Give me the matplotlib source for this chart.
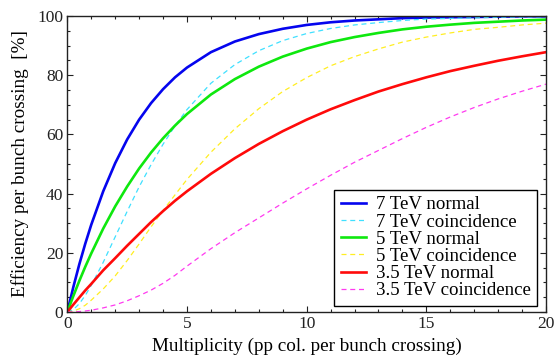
import matplotlib
matplotlib.use("Agg")
import matplotlib.pyplot as plt
from matplotlib.ticker import MultipleLocator

plt.rcParams['font.family'] = ['Liberation Serif', 'DejaVu Serif']

mult = [0, 0.25, 0.5, 0.75, 1, 1.5, 2, 2.5, 3, 3.5, 4, 4.5, 5, 6, 7, 8, 9, 10,
        11, 12, 13, 14, 15, 16, 17, 18, 19, 20]

eff_7_normal = [0, 8.4, 16.1, 23.1, 29.5, 40.8, 50.3, 58.3, 65.0, 70.6, 75.3, 79.3, 82.6,
                87.8, 91.4, 93.9, 95.7, 97.0, 97.9, 98.5, 98.9, 99.3, 99.5, 99.6, 99.7,
                99.8, 99.9, 99.9]
eff_7_coinc = [0, 0.8, 2.8, 5.6, 9.0, 16.8, 25.4, 34.0, 42.3, 49.8, 56.7, 62.9, 68.4,
               77.3, 83.6, 88.3, 91.7, 94.1, 95.8, 97.0, 97.8, 98.5, 99.0, 99.2, 99.4,
               99.6, 99.7, 99.8]
eff_5_normal = [0, 5.4, 10.5, 15.3, 19.8, 28.2, 35.7, 42.4, 48.5, 53.9, 58.7, 63.0, 66.9,
                73.5, 78.7, 82.9, 86.3, 89.0, 91.2, 92.9, 94.3, 95.5, 96.4, 97.1, 97.7,
                98.1, 98.5, 98.8]
eff_5_coinc = [0, 0.3, 1.1, 2.3, 4.0, 7.8, 12.2, 17.4, 23.0, 28.8, 34.3, 39.6, 44.8,
               54.0, 61.9, 68.7, 74.5, 79.2, 83.2, 86.3, 88.9, 91.2, 92.9, 94.3, 95.5,
               96.2, 97.0, 97.6]
eff_35_normal = [0, 2.5, 4.9, 7.3, 9.5, 14.1, 18.2, 22.4, 26.4, 30.4, 34.1, 37.6, 40.8,
                 46.7, 52.0, 56.8, 61.1, 65.0, 68.5, 71.6, 74.5, 77.0, 79.3, 81.4, 83.2,
                 84.9, 86.4, 87.8]
eff_35_coinc = [0, 0.05, 0.15, 0.35, 0.6, 1.4, 2.4, 3.8, 5.5, 7.4, 9.7, 12.4, 15.5,
                21.4, 26.8, 31.8, 36.8, 41.6, 46.2, 50.6, 54.6, 58.6, 62.4, 65.9, 69.1,
                72.0, 74.6, 77.0]

fig = plt.figure(figsize=(5.55, 3.57), dpi=100)
ax = fig.add_axes([0.1213, 0.126, 0.8625, 0.829])

thick = 1.9
thin = 0.9
dash = (0, (4, 3))
ax.plot(mult, eff_7_normal, color='#0505ee', lw=thick, label='7 TeV normal')
ax.plot(mult, eff_7_coinc, color='#3fe0ff', lw=thin, ls=dash, label='7 TeV coincidence')
ax.plot(mult, eff_5_normal, color='#0ee80e', lw=thick, label='5 TeV normal')
ax.plot(mult, eff_5_coinc, color='#ffee22', lw=thin, ls=dash, label='5 TeV coincidence')
ax.plot(mult, eff_35_normal, color='#ff0a0a', lw=thick, label='3.5 TeV normal')
ax.plot(mult, eff_35_coinc, color='#ff3af0', lw=thin, ls=dash, label='3.5 TeV coincidence')

ax.set_xlim(0, 20)
ax.set_ylim(0, 100)
ax.xaxis.set_major_locator(MultipleLocator(5))
ax.xaxis.set_minor_locator(MultipleLocator(1))
ax.yaxis.set_major_locator(MultipleLocator(20))
ax.yaxis.set_minor_locator(MultipleLocator(5))
ax.tick_params(which='both', direction='in', top=True, right=True, labelsize=12.5,
               width=0.8, colors='#222222')
ax.tick_params(which='major', length=4.5, pad=3)
ax.tick_params(which='minor', length=2.5)
for s in ax.spines.values():
    s.set_linewidth(1.0)
    s.set_color('#222222')

ax.set_xlabel('Multiplicity (pp col. per bunch crossing)', fontsize=13.8, labelpad=4)
ax.set_ylabel('Efficiency per bunch crossing  [%]', fontsize=13.8, labelpad=6)

leg = ax.legend(loc='lower right', bbox_to_anchor=(0.982, 0.02), borderaxespad=0,
                fontsize=13.6, handlelength=1.35, handletextpad=0.5,
                labelspacing=0.0, borderpad=0.35, fancybox=False, framealpha=1)
leg.get_frame().set_edgecolor('black')
leg.get_frame().set_linewidth(1.0)

fig.savefig('out.png', dpi=100)
